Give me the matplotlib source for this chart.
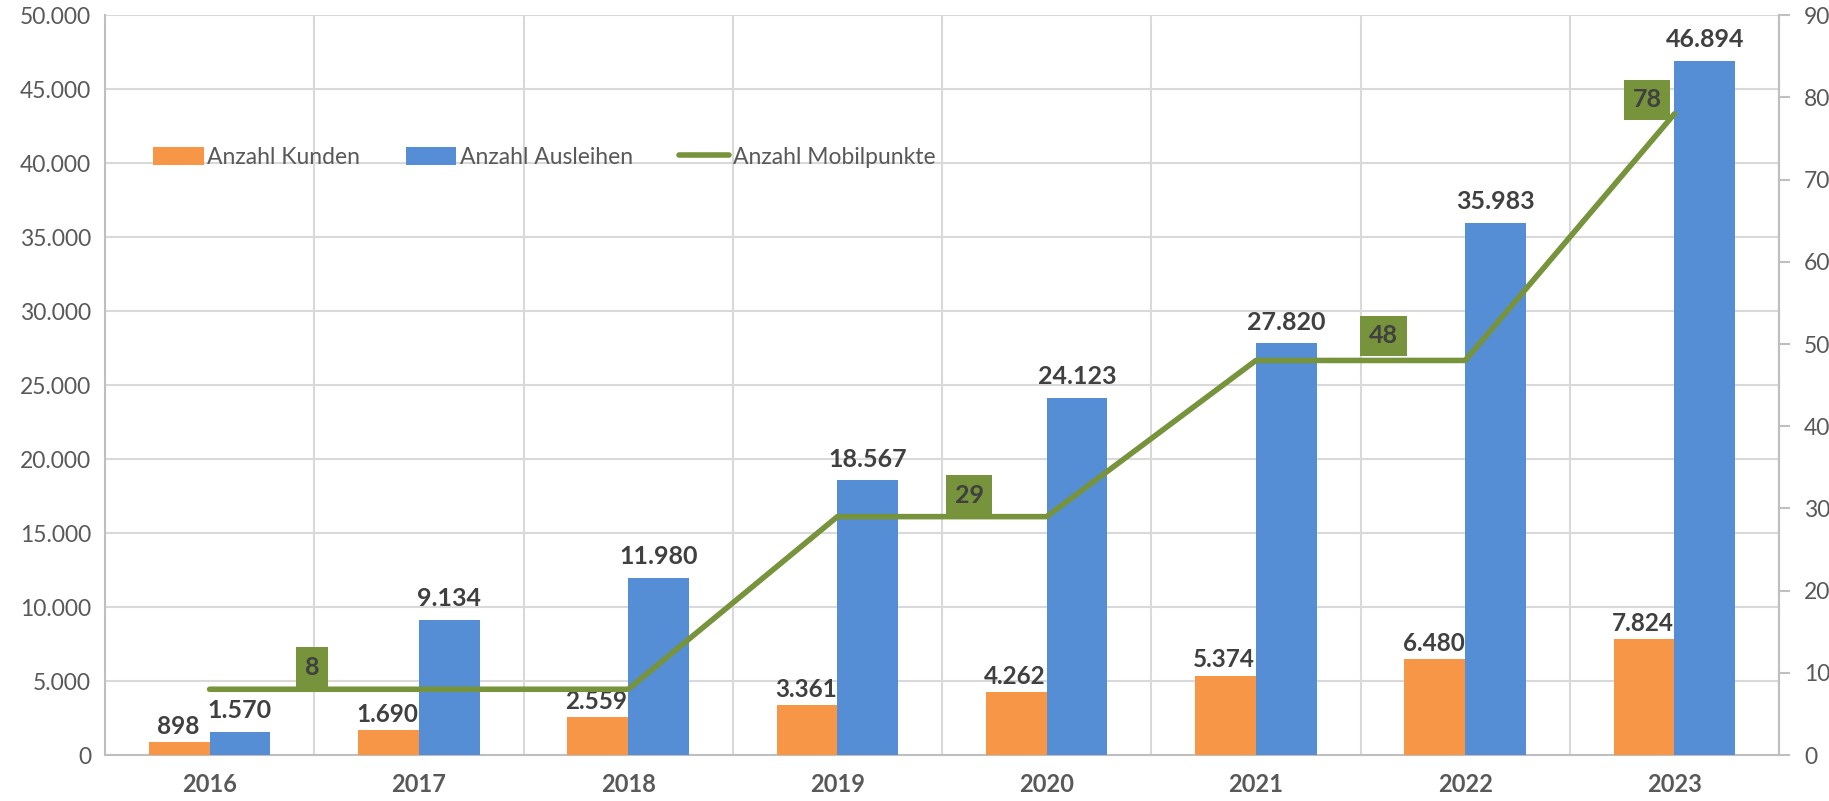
import matplotlib
matplotlib.use("Agg")
import matplotlib.pyplot as plt
import numpy as np
from matplotlib.lines import Line2D
from matplotlib.patches import Patch

years = ["2016", "2017", "2018", "2019", "2020", "2021", "2022", "2023"]
kunden = [898, 1690, 2559, 3361, 4262, 5374, 6480, 7824]
ausleihen = [1570, 9134, 11980, 18567, 24123, 27820, 35983, 46894]
mobilpunkte = [8, 8, 8, 29, 29, 48, 48, 78]
# positions of the shown line labels (index of point, x shift, y shift in axis units)
line_label_idx = [0, 3, 5, 7]
line_label_dx = [0.49, 0.63, 0.61, -0.13]
line_label_dy = [2.7, 2.6, 3.0, 1.7]

C_OR = "#F79646"
C_BL = "#558ED5"
C_GR = "#77933C"
C_GRID = "#D9D9D9"
C_AX = "#BFBFBF"
C_TXT = "#595959"
C_LAB = "#404040"
FONT = ["Lato", "DejaVu Sans"]
plt.rcParams['font.family'] = FONT

def de(v):
    return f"{v:,}".replace(",", ".")

fig = plt.figure(figsize=(18.29, 8.01), dpi=100)
ax = fig.add_axes([0.0574, 0.0574, 0.9153, 0.9236])
ax2 = ax.twinx()

x = np.arange(len(years))
w = 0.29
b1 = ax.bar(x - w/2, kunden, w, color=C_OR, zorder=3)
b2 = ax.bar(x + w/2, ausleihen, w, color=C_BL, zorder=3)
for xi, v in zip(x, kunden):
    ax.annotate(de(v), (xi - w/2, v), xytext=(-1, 3), textcoords="offset points",
                ha="center", va="bottom", fontsize=17.5, fontweight="bold", color=C_LAB, zorder=5)
for xi, v in zip(x, ausleihen):
    ax.annotate(de(v), (xi + w/2, v), xytext=(0, 7), textcoords="offset points",
                ha="center", va="bottom", fontsize=18, fontweight="bold", color=C_LAB, zorder=5)

ax.set_xlim(-0.5, len(years) - 0.5)
ax.set_ylim(0, 50000)
ax.set_yticks(np.arange(0, 50001, 5000))
ax.set_yticklabels([de(v) for v in range(0, 50001, 5000)], fontsize=16.5, color=C_TXT)
ax.set_xticks(x)
ax.set_xticklabels(years, fontsize=17, fontweight="bold", color=C_TXT)
ax.set_xticks(np.arange(-0.5, len(years), 1), minor=True)
ax.tick_params(axis="x", which="both", length=0, pad=13)
ax.tick_params(axis="y", length=0, pad=10)
ax.grid(True, axis="y", color=C_GRID, linewidth=1.5, zorder=0)
ax.grid(True, axis="x", which="minor", color=C_GRID, linewidth=1.5, zorder=0)
ax.set_axisbelow(True)
for s in ["top"]:
    ax.spines[s].set_visible(False)
for s in ["left", "bottom", "right"]:
    ax.spines[s].set_color(C_AX)
    ax.spines[s].set_linewidth(1.5)

ax2.plot(x, mobilpunkte, color=C_GR, linewidth=4, solid_capstyle="round", zorder=4)
ax2.set_ylim(0, 90)
ax2.set_yticks(np.arange(0, 91, 10))
ax2.set_yticklabels([str(v) for v in range(0, 91, 10)], fontsize=16.5, color=C_TXT)
ax2.tick_params(axis="y", length=8, width=1.5, color=C_AX, pad=10)
ax2.spines["top"].set_visible(False)
ax2.spines["left"].set_visible(False)
ax2.spines["bottom"].set_visible(False)
ax2.spines["right"].set_color(C_AX)
ax2.spines["right"].set_linewidth(1.5)
for i, dx, dy in zip(line_label_idx, line_label_dx, line_label_dy):
    ax2.text(x[i] + dx, mobilpunkte[i] + dy, str(mobilpunkte[i]), ha="center", va="center",
             fontsize=18, fontweight="bold", color=C_LAB, zorder=6,
             bbox=dict(boxstyle="square,pad=0.35", facecolor=C_GR, edgecolor="none"))

handles = [Patch(facecolor=C_OR, edgecolor="none"),
           Patch(facecolor=C_BL, edgecolor="none"),
           Line2D([0], [0], color=C_GR, linewidth=4, solid_capstyle="round")]
leg = ax.legend(handles, ["Anzahl Kunden", "Anzahl Ausleihen", "Anzahl Mobilpunkte"],
                loc="center left", bbox_to_anchor=(0.0165, 0.808), ncol=3, frameon=False,
                fontsize=16.5, labelcolor=C_TXT, handlelength=2.2, handleheight=0.8,
                handletextpad=0.15, columnspacing=2.0)

fig.savefig("out.png", dpi=100)
